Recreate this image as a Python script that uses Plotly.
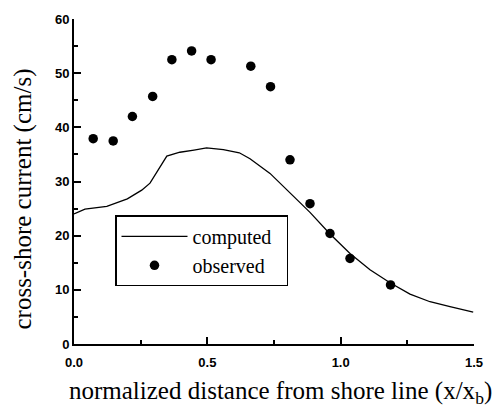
import plotly.graph_objects as go

# computed curve
comp_x = [0.0, 0.041, 0.123, 0.20, 0.254, 0.285, 0.348, 0.397, 0.45, 0.497, 0.56, 0.62,
          0.66, 0.735, 0.81, 0.885, 0.96, 1.035, 1.11, 1.185, 1.26, 1.335, 1.41, 1.497]
comp_y = [24.0, 24.9, 25.4, 26.8, 28.4, 29.7, 34.7, 35.4, 35.8, 36.2, 35.9, 35.3,
          34.2, 31.5, 27.9, 24.3, 20.3, 16.7, 13.7, 11.3, 9.2, 7.8, 6.9, 5.9]

# observed points
obs_x = [0.072, 0.147, 0.219, 0.295, 0.367, 0.441, 0.514, 0.663, 0.737, 0.810, 0.885, 0.960, 1.035, 1.187]
obs_y = [37.9, 37.5, 42.0, 45.7, 52.5, 54.1, 52.5, 51.3, 47.5, 34.0, 25.9, 20.4, 15.8, 10.9]

x_ticks = [0.0, 0.5, 1.0, 1.5]
y_ticks = [0, 10, 20, 30, 40, 50, 60]

serif = "Liberation Serif, Times New Roman, serif"
sans = "Liberation Sans, Arial, sans-serif"

fig = go.Figure()
fig.add_trace(go.Scatter(x=comp_x, y=comp_y, mode="lines", name="computed&nbsp;&nbsp;",
                         line=dict(color="black", width=1.3)))
fig.add_trace(go.Scatter(x=obs_x, y=obs_y, mode="markers", name="observed&nbsp;&nbsp;",
                         marker=dict(color="black", size=9.5)))

fig.update_layout(
    width=499, height=413,
    margin=dict(l=74, r=25, t=13, b=69),
    plot_bgcolor="white", paper_bgcolor="white",
    showlegend=True,
    legend=dict(x=0.1025, y=0.396, xanchor="left", yanchor="top",
                bordercolor="black", borderwidth=1.5, bgcolor="white",
                font=dict(family=serif, size=20, color="black"),
                itemwidth=66, tracegroupgap=0),
    xaxis=dict(range=[0, 1.5], tickvals=x_ticks, ticktext=[f"{v:.1f}" for v in x_ticks],
               showline=True, linecolor="black", linewidth=2, mirror=False,
               ticks="inside", ticklen=7, tickwidth=1.5, tickcolor="black",
               minor=dict(dtick=0.25, ticks="inside", ticklen=4, tickwidth=1.5, tickcolor="black"),
               showgrid=False, zeroline=False, ticklabelstandoff=5,
               tickfont=dict(family=sans, size=13, color="black", weight="bold")),
    yaxis=dict(range=[0, 60], tickvals=y_ticks,
               showline=True, linecolor="black", linewidth=2, mirror=False,
               ticks="inside", ticklen=7, tickwidth=1.5, tickcolor="black",
               minor=dict(dtick=5, ticks="inside", ticklen=4, tickwidth=1.5, tickcolor="black"),
               showgrid=False, zeroline=False,
               tickfont=dict(family=sans, size=13, color="black", weight="bold")),
    annotations=[
        dict(text="normalized distance from shore line (x/x<sub>b</sub>)",
             xref="paper", yref="paper", x=0.515, y=-0.148,
             xanchor="center", yanchor="middle", showarrow=False,
             font=dict(family=serif, size=25, color="black")),
        dict(text="cross-shore current (cm/s)",
             xref="paper", yref="paper", x=-0.128, y=0.447, textangle=-90,
             xanchor="center", yanchor="middle", showarrow=False,
             font=dict(family=serif, size=25, color="black")),
    ],
)

fig.write_html("out.html")
